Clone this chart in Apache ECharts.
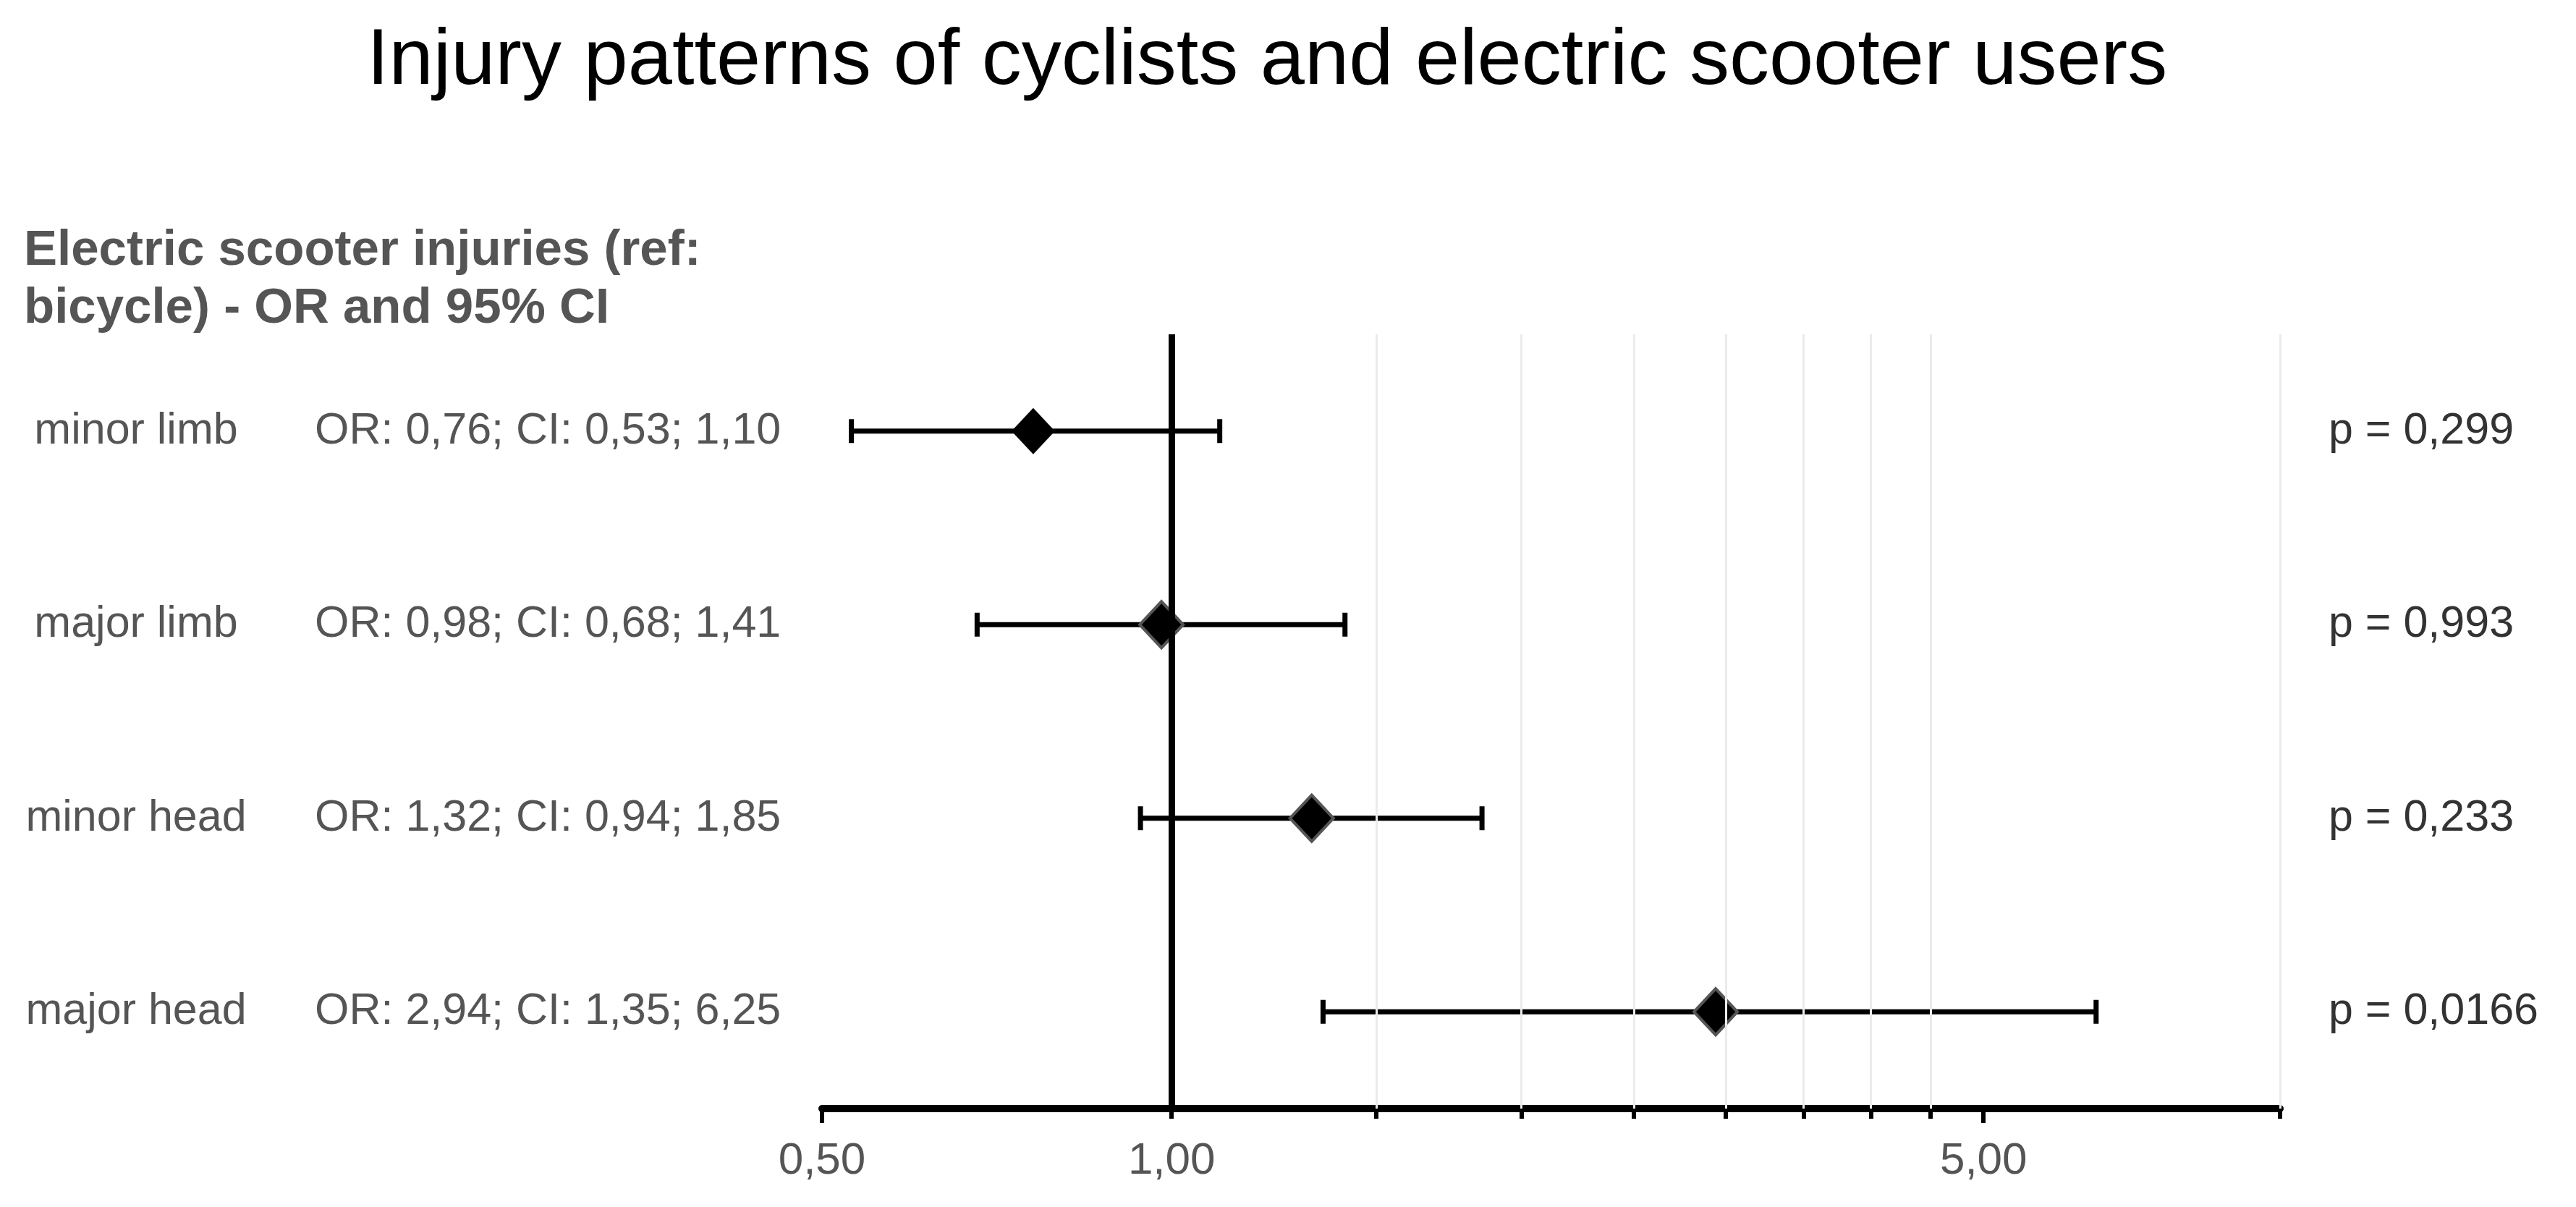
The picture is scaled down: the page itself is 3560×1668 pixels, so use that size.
<!DOCTYPE html>
<html>
<head>
<meta charset="utf-8">
<script src="https://cdn.jsdelivr.net/npm/echarts@6/dist/echarts.min.js"></script>
<style>
html,body{margin:0;padding:0;background:#fff;}
#chart{width:3560px;height:1668px;}
</style>
</head>
<body>
<div id="chart"></div>
<script>
// ---- data ----
const categories = ['minor limb', 'major limb', 'minor head', 'major head'];
const oddsRatios = [0.76, 0.98, 1.32, 2.94];
const ciLow = [0.53, 0.68, 0.94, 1.35];
const ciHigh = [1.10, 1.41, 1.85, 6.25];
const pValues = ['0,299', '0,993', '0,233', '0,0166'];
const xLabelValues = [0.5, 1, 5];
const xMinorTicks = [1, 1.5, 2, 2.5, 3, 3.5, 4, 4.5, 9];
const xMajorTicks = [0.5, 5];
const gridValues = [1.5, 2, 2.5, 3, 3.5, 4, 4.5, 9];
const refValue = 1;

const FONT = 'Liberation Sans, Arial, Helvetica, sans-serif';
const fmt = v => v.toFixed(2).replace('.', ',');
const orTexts = categories.map((c, i) => `OR: ${fmt(oddsRatios[i])}; CI: ${fmt(ciLow[i])}; ${fmt(ciHigh[i])}`);

const chart = echarts.init(document.getElementById('chart'));
const option = {
  backgroundColor: '#ffffff',
  animation: false,
  title: [
    {
      text: 'Injury patterns of cyclists and electric scooter users',
      left: 502, top: 26,
      textStyle: { fontFamily: FONT, fontSize: 110, fontWeight: 'normal', color: '#000', lineHeight: 110 }
    },
    {
      text: 'Electric scooter injuries (ref:\nbicycle) - OR and 95% CI',
      left: 28, top: 302,
      textStyle: { fontFamily: FONT, fontSize: 69, fontWeight: 'bold', color: '#555555', lineHeight: 80 }
    }
  ],
  grid: { left: 1136, right: 409, top: 462, bottom: 136, containLabel: false },
  xAxis: [
    {
      type: 'log', min: 0.5, max: 9, position: 'bottom',
      axisLine: { show: true, lineStyle: { color: '#000', width: 10 } },
      axisTick: { show: true, customValues: xMinorTicks, length: 14, lineStyle: { color: '#000', width: 6 } },
      axisLabel: {
        show: true, customValues: xLabelValues, margin: 42,
        fontFamily: FONT, fontSize: 62, color: '#555555', lineHeight: 62,
        formatter: v => fmt(v)
      },
      splitLine: { show: false }
    },
    {
      type: 'log', min: 0.5, max: 9, position: 'bottom',
      axisLine: { show: false },
      axisTick: { show: true, customValues: xMajorTicks, length: 20, lineStyle: { color: '#000', width: 6 } },
      axisLabel: { show: false },
      splitLine: { show: false }
    }
  ],
  yAxis: [
    {
      type: 'category', data: categories, inverse: true, position: 'left',
      axisLine: { show: false }, axisTick: { show: false }, splitLine: { show: false },
      axisLabel: { align: 'center', margin: 948, fontFamily: FONT, fontSize: 61, color: '#555555' }
    },
    {
      type: 'category', data: orTexts, inverse: true, position: 'left',
      axisLine: { show: false }, axisTick: { show: false }, splitLine: { show: false },
      axisLabel: { align: 'left', margin: 701, fontFamily: FONT, fontSize: 61, color: '#555555' }
    },
    {
      type: 'category', data: pValues.map(p => 'p = ' + p), inverse: true, position: 'right',
      axisLine: { show: false }, axisTick: { show: false }, splitLine: { show: false },
      axisLabel: { align: 'left', margin: 67, fontFamily: FONT, fontSize: 61, color: '#333333' }
    }
  ],
  series: [
    {
      type: 'scatter', data: [], xAxisIndex: 0, yAxisIndex: 0, z: 1, silent: true,
      markLine: {
        silent: true, symbol: ['none', 'none'], label: { show: false }, animation: false,
        data: gridValues.map(v => ({ xAxis: v, lineStyle: { color: '#ebebeb', width: 3, type: 'solid', opacity: 1 } }))
          .concat([{ xAxis: refValue, lineStyle: { color: '#000', width: 9, type: 'solid', opacity: 1 } }])
      }
    },
    {
      type: 'custom', xAxisIndex: 0, yAxisIndex: 0, z: 2,
      data: categories.map((c, i) => [ciLow[i], ciHigh[i], i]),
      encode: { x: [0, 1], y: 2 },
      renderItem: (params, api) => {
        const lo = api.coord([api.value(0), api.value(2)]);
        const hi = api.coord([api.value(1), api.value(2)]);
        const h = 33;
        const st = { stroke: '#000', lineWidth: 7 };
        return {
          type: 'group',
          children: [
            { type: 'line', shape: { x1: lo[0], y1: lo[1], x2: hi[0], y2: hi[1] }, style: st },
            { type: 'line', shape: { x1: lo[0], y1: lo[1] - h / 2, x2: lo[0], y2: lo[1] + h / 2 }, style: st },
            { type: 'line', shape: { x1: hi[0], y1: hi[1] - h / 2, x2: hi[0], y2: hi[1] + h / 2 }, style: st }
          ]
        };
      }
    },
    {
      type: 'scatter', xAxisIndex: 0, yAxisIndex: 0, z: 3,
      symbol: 'diamond', symbolSize: [60, 64],
      data: categories.map((c, i) => ({
        value: [oddsRatios[i], i],
        itemStyle: { color: '#000', opacity: 1, borderColor: i === 0 ? '#000' : '#555555', borderWidth: i === 0 ? 0 : 4 }
      }))
    }
  ]
};
chart.setOption(option);
</script>
</body>
</html>
